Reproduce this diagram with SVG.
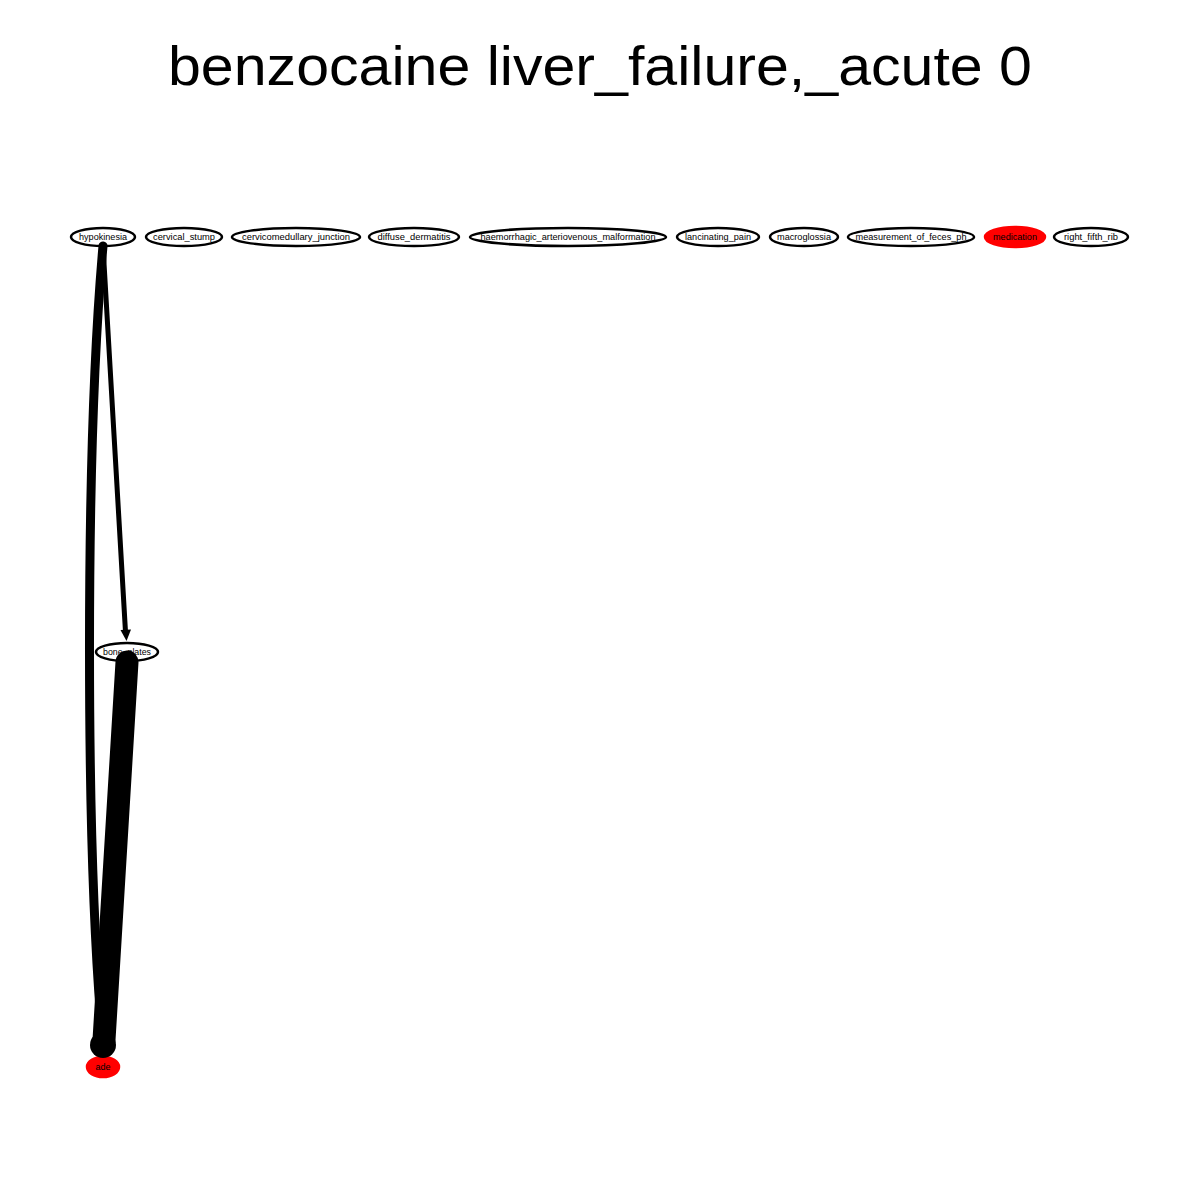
<svg xmlns="http://www.w3.org/2000/svg" width="1200" height="1200" viewBox="0 0 1200 1200">
<style>
.n ellipse{fill:#fff;stroke:#000;stroke-width:2.5}
.n ellipse.r{fill:#f00;stroke:#f00}
.n text{font-family:"Liberation Sans",Arial,sans-serif;font-size:9px;text-anchor:middle;fill:#000}
.e{fill:none;stroke:#000;stroke-linecap:round}
</style>
<rect width="1200" height="1200" fill="#fff"/>
<text x="600" y="85" font-family="Liberation Sans, Arial, sans-serif" font-size="56" text-anchor="middle" textLength="864" lengthAdjust="spacingAndGlyphs">benzocaine liver_failure,_acute 0</text>
<g id="hypokinesia" class="n"><ellipse cx="103" cy="237" rx="32" ry="9"/><text x="103" y="240" textLength="48" lengthAdjust="spacingAndGlyphs">hypokinesia</text></g>
<g id="cervical_stump" class="n"><ellipse cx="184" cy="237" rx="38" ry="9"/><text x="184" y="240" textLength="62" lengthAdjust="spacingAndGlyphs">cervical_stump</text></g>
<g id="cervicomedullary_junction" class="n"><ellipse cx="296" cy="237" rx="64" ry="9"/><text x="296" y="240" textLength="108" lengthAdjust="spacingAndGlyphs">cervicomedullary_junction</text></g>
<g id="diffuse_dermatitis" class="n"><ellipse cx="414" cy="237" rx="45" ry="9"/><text x="414" y="240" textLength="73" lengthAdjust="spacingAndGlyphs">diffuse_dermatitis</text></g>
<g id="haemorrhagic_arteriovenous_malformation" class="n"><ellipse cx="568" cy="237" rx="98" ry="9"/><text x="568" y="240" textLength="175" lengthAdjust="spacingAndGlyphs">haemorrhagic_arteriovenous_malformation</text></g>
<g id="lancinating_pain" class="n"><ellipse cx="718" cy="237" rx="41" ry="9"/><text x="718" y="240" textLength="66" lengthAdjust="spacingAndGlyphs">lancinating_pain</text></g>
<g id="macroglossia" class="n"><ellipse cx="804" cy="237" rx="34" ry="9"/><text x="804" y="240" textLength="54" lengthAdjust="spacingAndGlyphs">macroglossia</text></g>
<g id="measurement_of_feces_ph" class="n"><ellipse cx="911" cy="237" rx="63" ry="9"/><text x="911" y="240" textLength="111" lengthAdjust="spacingAndGlyphs">measurement_of_feces_ph</text></g>
<g id="medication" class="n"><ellipse class="r" cx="1015" cy="237" rx="30" ry="10"/><text x="1015" y="240" textLength="44" lengthAdjust="spacingAndGlyphs">medication</text></g>
<g id="right_fifth_rib" class="n"><ellipse cx="1091" cy="237" rx="37" ry="9"/><text x="1091" y="240" textLength="54" lengthAdjust="spacingAndGlyphs">right_fifth_rib</text></g>
<g id="bone_plates" class="n"><ellipse cx="127" cy="652" rx="31" ry="9"/><text x="127" y="655" textLength="48" lengthAdjust="spacingAndGlyphs">bone_plates</text></g>
<g id="ade" class="n"><ellipse class="r" cx="103" cy="1067" rx="16" ry="10"/><text x="103" y="1070">ade</text></g>
<g id="edges">
<path class="e" d="M103,246 C85,450 85,850 103,1045" stroke-width="9"/>
<path class="e" d="M103,246 L125.5,632" stroke-width="5"/>
<polygon points="120.5,630 131,629.5 126.5,641" fill="#000"/>
<path class="e" d="M127,662 L104,1040" stroke-width="23"/>
<circle cx="103" cy="1045" r="13" fill="#000"/>
</g>
</svg>
